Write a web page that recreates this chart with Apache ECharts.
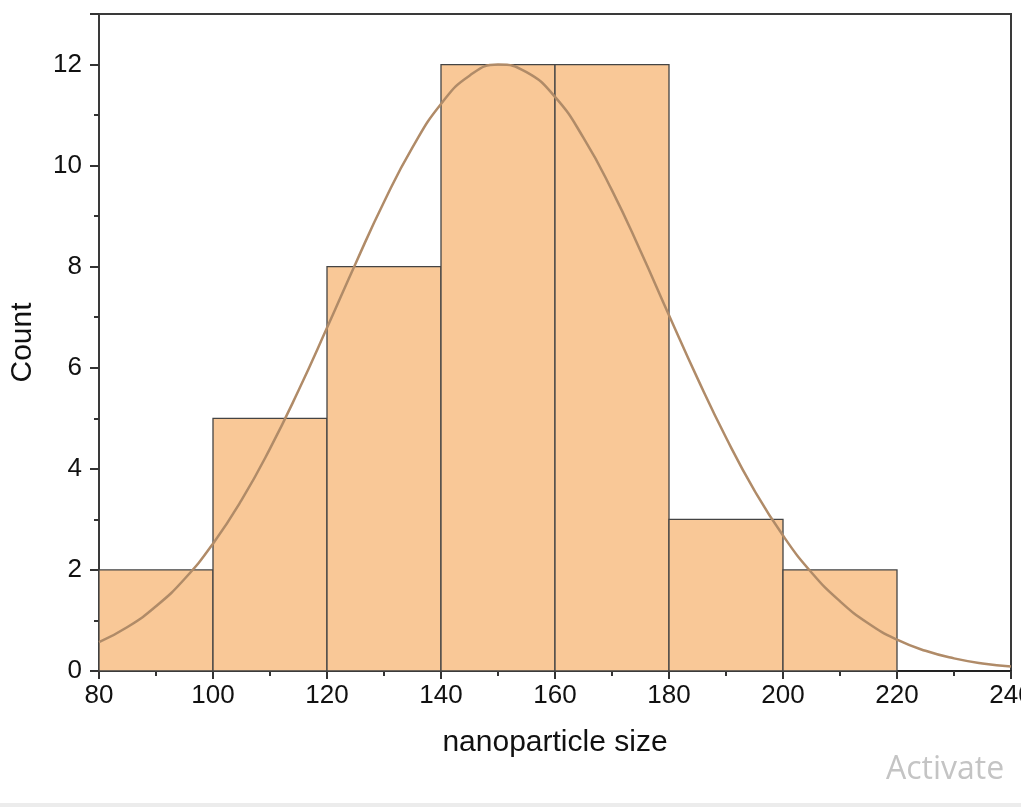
<html>
<head>
  <meta charset="utf-8">
  <title></title>
  <style>
    body { margin: 0; background: #fff; overflow: hidden; }
  </style>
</head>
<body>
  <div id="main" style="width: 1021px;height:807px;"></div>
</body>
<script src="https://cdn.jsdelivr.net/npm/echarts@6/dist/echarts.min.js"></script>
<script>
  // histogram bins: [start, end, count]
  let binStart = [80, 100, 120, 140, 160, 180, 200];
  let binEnd = [100, 120, 140, 160, 180, 200, 220];
  let counts = [2, 5, 8, 12, 12, 3, 2];

  // fitted curve, every 5 units
  let curveX = [80, 85, 90, 95, 100, 105, 110, 115, 120, 125, 130, 135, 140, 145, 150, 155, 160,
    165, 170, 175, 180, 185, 190, 195, 200, 205, 210, 215, 220, 225, 230, 235, 240];
  let curveY = [0.57, 0.87, 1.28, 1.82, 2.52, 3.38, 4.40, 5.55, 6.79, 8.06, 9.28, 10.36, 11.22, 11.78, 12.0, 11.85, 11.36,
    10.55, 9.51, 8.31, 7.04, 5.79, 4.62, 3.57, 2.68, 1.95, 1.38, 0.94, 0.62, 0.40, 0.25, 0.15, 0.09];

  let xTicks = [80, 100, 120, 140, 160, 180, 200, 220, 240];

  let bins = binStart.map((s, i) => [s, binEnd[i], counts[i]]);
  let curve = curveX.map((x, i) => [x, curveY[i]]);

  let font = 'Liberation Sans, Arial, sans-serif';
  var myChart = echarts.init(document.getElementById('main'));

  option = {
    animation: false,
    grid: {
      left: 99, right: 10, top: 14, bottom: 136,
      outerBoundsMode: 'none', containLabel: false,
      show: true, borderColor: '#3a3a3a', borderWidth: 2, backgroundColor: 'transparent'
    },
    xAxis: {
      type: 'value', min: 80, max: 240, interval: 20,
      name: 'nanoparticle size', nameLocation: 'middle', nameGap: 57,
      nameTextStyle: { fontFamily: font, fontSize: 30, color: '#111' },
      axisLine: { show: true, onZero: false, lineStyle: { color: '#222', width: 2 } },
      axisTick: { show: true, length: 8, inside: false, lineStyle: { color: '#333', width: 2 } },
      minorTick: { show: true, splitNumber: 2, length: 5, lineStyle: { color: '#333', width: 2 } },
      axisLabel: {
        fontFamily: font, fontSize: 26, color: '#111', margin: 12,
        formatter: v => xTicks.includes(v) ? String(v) : ''
      },
      splitLine: { show: false }
    },
    yAxis: {
      type: 'value', min: 0, max: 13, interval: 2,
      name: 'Count', nameLocation: 'middle', nameGap: 61,
      nameTextStyle: { fontFamily: font, fontSize: 30, color: '#111' },
      axisLine: { show: true, lineStyle: { color: '#3a3a3a', width: 2 } },
      axisTick: { show: true, length: 9, lineStyle: { color: '#333', width: 2 } },
      minorTick: { show: true, splitNumber: 2, length: 5, lineStyle: { color: '#333', width: 2 } },
      axisLabel: {
        fontFamily: font, fontSize: 26, color: '#111', margin: 17,
        formatter: v => v <= 12 ? String(v) : ''
      },
      splitLine: { show: false }
    },
    series: [{
      type: 'custom',
      data: bins,
      encode: { x: [0, 1], y: 2 },
      z: 2,
      renderItem: function (params, api) {
        let p0 = api.coord([api.value(0), 0]);
        let p1 = api.coord([api.value(1), api.value(2)]);
        return {
          type: 'rect',
          shape: { x: p0[0], y: p1[1], width: p1[0] - p0[0], height: p0[1] - p1[1] },
          style: { fill: '#F9C897', stroke: '#444', lineWidth: 1.3 }
        };
      }
    }, {
      type: 'line',
      data: curve,
      smooth: true,
      symbol: 'none',
      z: 3,
      lineStyle: { color: '#B08B68', width: 2.5 }
    }],
    graphic: [{
      type: 'rect', left: 0, top: 803, shape: { width: 1021, height: 4 },
      style: { fill: '#ececec' }, z: 10
    }, {
      type: 'text', left: 886, top: 754,
      style: { text: 'Activate', fontFamily: 'Open Sans, sans-serif', fontSize: 32, fill: '#c4c4c4' }, z: 10
    }]
  };

  myChart.setOption(option);
</script>
</html>
